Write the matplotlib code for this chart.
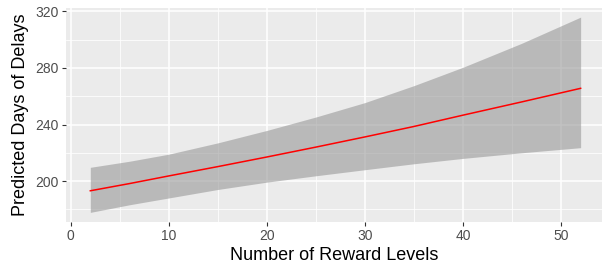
import matplotlib
matplotlib.use("Agg")
import matplotlib.pyplot as plt
from matplotlib.ticker import MultipleLocator

plt.rcParams['font.family'] = ['Liberation Sans', 'DejaVu Sans']

# values
reward_levels = [2, 6, 10, 15, 20, 25, 30, 35, 40, 46, 52]
predicted = [193.1, 198.2, 203.6, 210.2, 217.0, 224.0, 231.2, 238.6, 246.6, 256.0, 265.6]
upper = [209.7, 214.0, 219.0, 227.0, 235.8, 245.3, 255.5, 267.5, 280.5, 297.5, 316.0]
lower = [177.8, 183.2, 188.0, 194.0, 199.2, 203.7, 208.0, 212.2, 216.0, 220.0, 223.6]

fig = plt.figure(figsize=(6.02, 2.65), dpi=100)
ax = fig.add_axes([66 / 602, 1 - 222 / 265, 536 / 602, 214.5 / 265])
ax.set_facecolor('#EBEBEB')

# confidence band + fitted line
ax.fill_between(reward_levels, lower, upper, color='#999999', alpha=0.6, lw=0, zorder=2)
ax.plot(reward_levels, predicted, color='red', lw=1.1, zorder=3)

ax.set_xlim(-0.48, 54.18)
ax.set_ylim(171.0, 322.8)
ax.xaxis.set_major_locator(MultipleLocator(10))
ax.xaxis.set_minor_locator(MultipleLocator(5))
ax.yaxis.set_major_locator(MultipleLocator(40))
ax.yaxis.set_minor_locator(MultipleLocator(20))
ax.set_yticks([200, 240, 280, 320])

ax.grid(which='major', color='white', lw=1.1, zorder=1)
ax.grid(which='minor', color='white', lw=0.55, zorder=1)
ax.set_axisbelow(True)
for s in ax.spines.values():
    s.set_visible(False)

ax.tick_params(which='major', length=3, width=0.8, color='#333333',
               labelsize=10, labelcolor='#4D4D4D', pad=2)
ax.tick_params(which='minor', length=0)

ax.set_xlabel('Number of Reward Levels', fontsize=13, labelpad=3)
ax.set_ylabel('Predicted Days of Delays', fontsize=13, labelpad=5)

fig.savefig('out.png', dpi=100)
